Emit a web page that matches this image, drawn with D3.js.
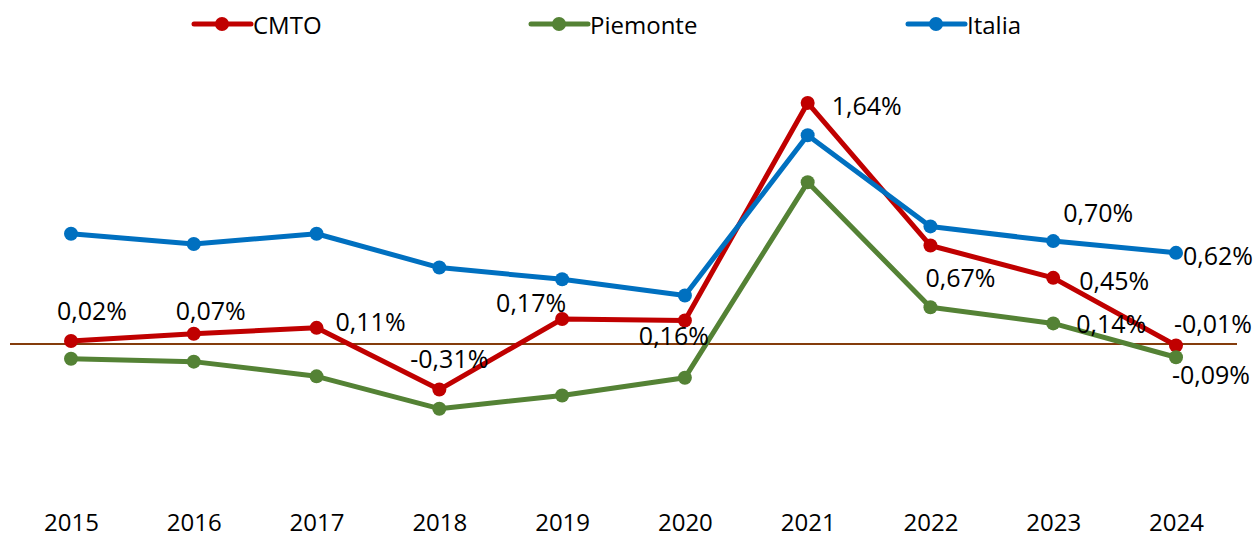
<!DOCTYPE html>
<html>
<head>
<meta charset="utf-8">
<script src="https://cdn.jsdelivr.net/npm/d3@7"></script>
<style>
  body { margin: 0; background: #fff; }
  svg { font-family: "Open Sans", sans-serif; }
</style>
</head>
<body>
<div id="chart"></div>
<script>
const years = ['2015', '2016', '2017', '2018', '2019', '2020', '2021', '2022', '2023', '2024'];
const cmto = [0.02, 0.07, 0.11, -0.31, 0.17, 0.16, 1.64, 0.67, 0.45, -0.01];
const piemonte = [-0.10, -0.12, -0.22, -0.44, -0.35, -0.23, 1.10, 0.25, 0.14, -0.09];
const italia = [0.75, 0.68, 0.75, 0.52, 0.44, 0.33, 1.42, 0.80, 0.70, 0.62];
const seriesNames = ['CMTO', 'Piemonte', 'Italia'];

let width = 1258;
let height = 539;

let series = [
    { name: seriesNames[0], values: cmto, color: '#C00000' },
    { name: seriesNames[1], values: piemonte, color: '#548235' },
    { name: seriesNames[2], values: italia, color: '#0070C0' }
];

// which points get a label, and where it sits relative to the point
let labels = [
    { s: 0, i: 0, dx: 21, dy: -31 },
    { s: 0, i: 1, dx: 17, dy: -24 },
    { s: 0, i: 2, dx: 54, dy: -7 },
    { s: 0, i: 3, dx: 10, dy: -32 },
    { s: 0, i: 4, dx: -31, dy: -17 },
    { s: 0, i: 5, dx: -11, dy: 15 },
    { s: 0, i: 6, dx: 59, dy: 2 },
    { s: 0, i: 7, dx: 30, dy: 31 },
    { s: 2, i: 8, dx: 45, dy: -29 },
    { s: 0, i: 8, dx: 61, dy: 2 },
    { s: 1, i: 8, dx: 58, dy: 0 },
    { s: 0, i: 9, dx: 37, dy: -22 },
    { s: 1, i: 9, dx: 35, dy: 17 },
    { s: 2, i: 9, dx: 42, dy: 2 }
];

let x = d3.scalePoint()
    .domain(years)
    .range([71, 1176]);

let y = d3.scaleLinear()
    .domain([-1, 2])
    .range([491, 50]);

let fmt = v => d3.format('.2f')(v).replace('.', ',').replace('−', '-') + '%';

let svg = d3.select('#chart').append('svg')
    .attr('width', width)
    .attr('height', height);

// zero line
svg.append('line')
    .attr('x1', 10)
    .attr('x2', 1237)
    .attr('y1', y(0))
    .attr('y2', y(0))
    .attr('stroke', '#843C0C')
    .attr('stroke-width', 2);

let line = d3.line()
    .x((d, i) => x(years[i]))
    .y(d => y(d));

series.forEach(s => {
    svg.append('path')
        .datum(s.values)
        .attr('fill', 'none')
        .attr('stroke', s.color)
        .attr('stroke-width', 5)
        .attr('stroke-linejoin', 'round')
        .attr('d', line);
});

series.forEach(s => {
    svg.append('g')
        .selectAll('circle')
        .data(s.values)
        .join('circle')
            .attr('cx', (d, i) => x(years[i]))
            .attr('cy', d => y(d))
            .attr('r', 7)
            .attr('fill', s.color);
});

svg.append('g')
    .selectAll('text')
    .data(labels)
    .join('text')
        .attr('x', d => x(years[d.i]) + d.dx)
        .attr('y', d => y(series[d.s].values[d.i]) + d.dy)
        .attr('text-anchor', 'middle')
        .attr('dominant-baseline', 'central')
        .attr('font-size', 25)
        .attr('fill', '#000')
        .text(d => fmt(series[d.s].values[d.i]));

// x axis labels
let xAxis = svg.append('g')
    .attr('transform', 'translate(0,508)')
    .call(d3.axisBottom(x).tickSize(0).tickPadding(6));
xAxis.select('.domain').remove();
xAxis.selectAll('text')
    .attr('font-size', 24)
    .attr('font-family', '"Open Sans", sans-serif')
    .attr('fill', '#000');

// legend
let legendX = [194, 531, 908];
let legend = svg.append('g')
    .selectAll('g')
    .data(series)
    .join('g')
        .attr('transform', (d, i) => `translate(${legendX[i]},24)`);

legend.append('line')
    .attr('x1', 0)
    .attr('x2', 57)
    .attr('stroke', d => d.color)
    .attr('stroke-width', 5)
    .attr('stroke-linecap', 'round');

legend.append('circle')
    .attr('cx', 28)
    .attr('r', 7)
    .attr('fill', d => d.color);

legend.append('text')
    .attr('x', 59)
    .attr('dominant-baseline', 'central')
    .attr('font-size', 24)
    .attr('fill', '#000')
    .text(d => d.name);
</script>
</body>
</html>
